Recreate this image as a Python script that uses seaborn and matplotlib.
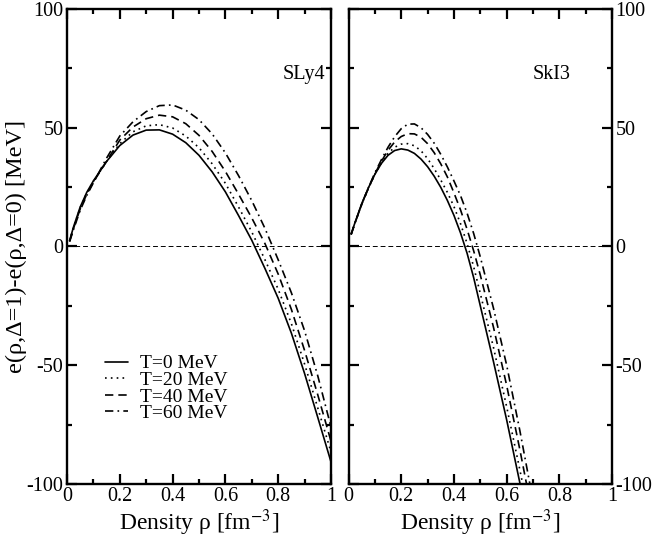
import matplotlib
matplotlib.use("Agg")
import matplotlib.pyplot as plt
from matplotlib.ticker import MultipleLocator, FuncFormatter
import numpy as np
import pandas as pd
import seaborn as sns

# density grid (fm^-3) and e(rho,D=1)-e(rho,D=0) in MeV
rho_sly4 = [0.01, 0.025, 0.05, 0.075, 0.1, 0.15, 0.2, 0.25, 0.3, 0.35, 0.4, 0.45,
            0.5, 0.55, 0.6, 0.65, 0.7, 0.75, 0.8, 0.85, 0.9, 0.95, 1.0]
sly4_t0 = [2.5, 8.3, 16.6, 22.8, 27.6, 35.8, 42.5, 46.9, 49.0, 49.1, 47.3, 43.7,
           38.4, 31.4, 23.0, 13.0, 2.6, -9.3, -21.8, -36.5, -53.5, -72.0, -90.7]
sly4_t20 = [2.4, 8.1, 16.3, 22.5, 27.4, 35.8, 43.3, 48.3, 50.8, 51.3, 49.9, 46.5,
            41.6, 34.8, 26.6, 16.6, 6.1, -5.6, -18.0, -32.5, -49.5, -68.0, -86.5]
sly4_t40 = [2.2, 7.7, 15.8, 22.0, 27.1, 35.9, 44.8, 50.3, 53.8, 55.3, 54.6, 51.7,
            46.8, 40.0, 31.6, 22.0, 12.0, 1.2, -11.6, -26.5, -43.8, -62.5, -82.0]
sly4_t60 = [2.0, 7.2, 15.2, 21.5, 26.8, 37.2, 46.5, 52.5, 56.8, 59.3, 59.6, 57.4,
            53.4, 47.4, 39.4, 29.8, 19.3, 7.6, -5.6, -19.5, -35.5, -54.5, -76.0]

rho_ski3 = [0.01, 0.025, 0.05, 0.075, 0.1, 0.125, 0.15, 0.175, 0.2, 0.225, 0.25,
            0.275, 0.3, 0.325, 0.35, 0.375, 0.4, 0.425, 0.45, 0.475, 0.5, 0.55,
            0.6, 0.65, 0.7]
ski3_t0 = [5.3, 10.2, 18.0, 24.6, 30.4, 35.0, 38.4, 40.4, 41.1, 40.6, 39.2, 36.8,
           33.6, 29.6, 24.9, 19.4, 13.1, 5.7, -2.9, -13.2, -25.0, -48.5, -73.0,
           -99.5, -127.0]
ski3_t20 = [5.2, 10.1, 17.8, 24.4, 30.4, 35.2, 39.2, 41.8, 43.1, 43.3, 42.4, 40.3,
            37.0, 32.8, 28.0, 22.8, 16.8, 9.6, 1.2, -8.6, -19.8, -42.5, -67.5,
            -94.0, -122.0]
ski3_t40 = [5.1, 10.0, 17.7, 24.4, 30.6, 35.9, 40.5, 44.0, 46.3, 47.5, 47.4, 46.0,
            43.3, 39.5, 34.8, 29.3, 22.6, 15.4, 7.2, -1.9, -12.0, -34.0, -58.5,
            -85.5, -114.0]
ski3_t60 = [5.0, 10.0, 17.8, 24.6, 31.0, 36.6, 41.8, 46.2, 49.6, 51.5, 51.6, 50.0,
            47.2, 43.5, 38.8, 33.5, 27.6, 21.4, 14.0, 5.4, -4.4, -26.0, -50.0,
            -77.5, -107.0]

temps = ["T=0 MeV", "T=20 MeV", "T=40 MeV", "T=60 MeV"]
styles = ["-", (0, (1, 2.5)), (0, (5, 3)), (0, (5, 2.5, 1, 2.5))]

sns.set_style("ticks", {"axes.edgecolor": "black", "xtick.color": "black",
                        "ytick.color": "black", "text.color": "black",
                        "axes.labelcolor": "black"})
plt.rcParams["font.family"] = ["Liberation Serif", "DejaVu Serif"]
plt.rcParams["mathtext.fontset"] = "stix"
plt.rcParams["axes.unicode_minus"] = False

fig = plt.figure(figsize=(6.54, 5.45), dpi=100)
ax_l = fig.add_axes([0.1024, 0.112, 0.4037, 0.8715])
ax_r = fig.add_axes([0.5329, 0.112, 0.4030, 0.8715])

panels = [
    (ax_l, rho_sly4, [sly4_t0, sly4_t20, sly4_t40, sly4_t60], "SLy4", 0.818),
    (ax_r, rho_ski3, [ski3_t0, ski3_t20, ski3_t40, ski3_t60], "SkI3", 0.70),
]

fmt = FuncFormatter(lambda v, p: "%g" % v)

for ax, rho, series, name, xtxt in panels:
    ax.axhline(0, color="black", lw=0.7, linestyle=(0, (5, 3)))
    for vals, lab, ls in zip(series, temps, styles):
        df = pd.DataFrame({"rho": rho, "e": vals})
        sns.lineplot(data=df, x="rho", y="e", ax=ax, color="black", lw=1.2,
                     linestyle=ls, label=lab if ax is ax_l else None)
    ax.set_xlim(0, 1)
    ax.set_ylim(-100, 100)
    ax.xaxis.set_major_locator(MultipleLocator(0.2))
    ax.xaxis.set_minor_locator(MultipleLocator(0.1))
    ax.yaxis.set_major_locator(MultipleLocator(50))
    ax.yaxis.set_minor_locator(MultipleLocator(25))
    ax.xaxis.set_major_formatter(fmt)
    ax.yaxis.set_major_formatter(fmt)
    ax.tick_params(which="both", direction="in", top=True, right=True,
                   left=True, bottom=True, width=1.6, color="black",
                   labelcolor="black", labelsize=14.5, pad=2.5)
    ax.tick_params(which="major", length=7)
    ax.tick_params(which="minor", length=3.5)
    for sp in ax.spines.values():
        sp.set_linewidth(1.7)
        sp.set_color("black")
    ax.set_xlabel("Density ρ [fm$^{-3}$]", fontsize=17, labelpad=1)
    ax.set_ylabel("")
    ax.text(xtxt, 0.862, name, transform=ax.transAxes, fontsize=14.5,
            ha="left", va="center")

ax_r.tick_params(which="both", labelleft=False, labelright=True)
if ax_r.get_legend() is not None:
    ax_r.get_legend().remove()

ax_l.set_ylabel("e(ρ,Δ=1)-e(ρ,Δ=0) [MeV]", fontsize=17.5, labelpad=0)

ax_l.legend(loc="upper left", bbox_to_anchor=(0.144, 0.272), frameon=False,
            fontsize=14, handlelength=1.2, handletextpad=0.6,
            labelspacing=-0.05, borderpad=0, borderaxespad=0)

fig.savefig("out.png", dpi=100)
